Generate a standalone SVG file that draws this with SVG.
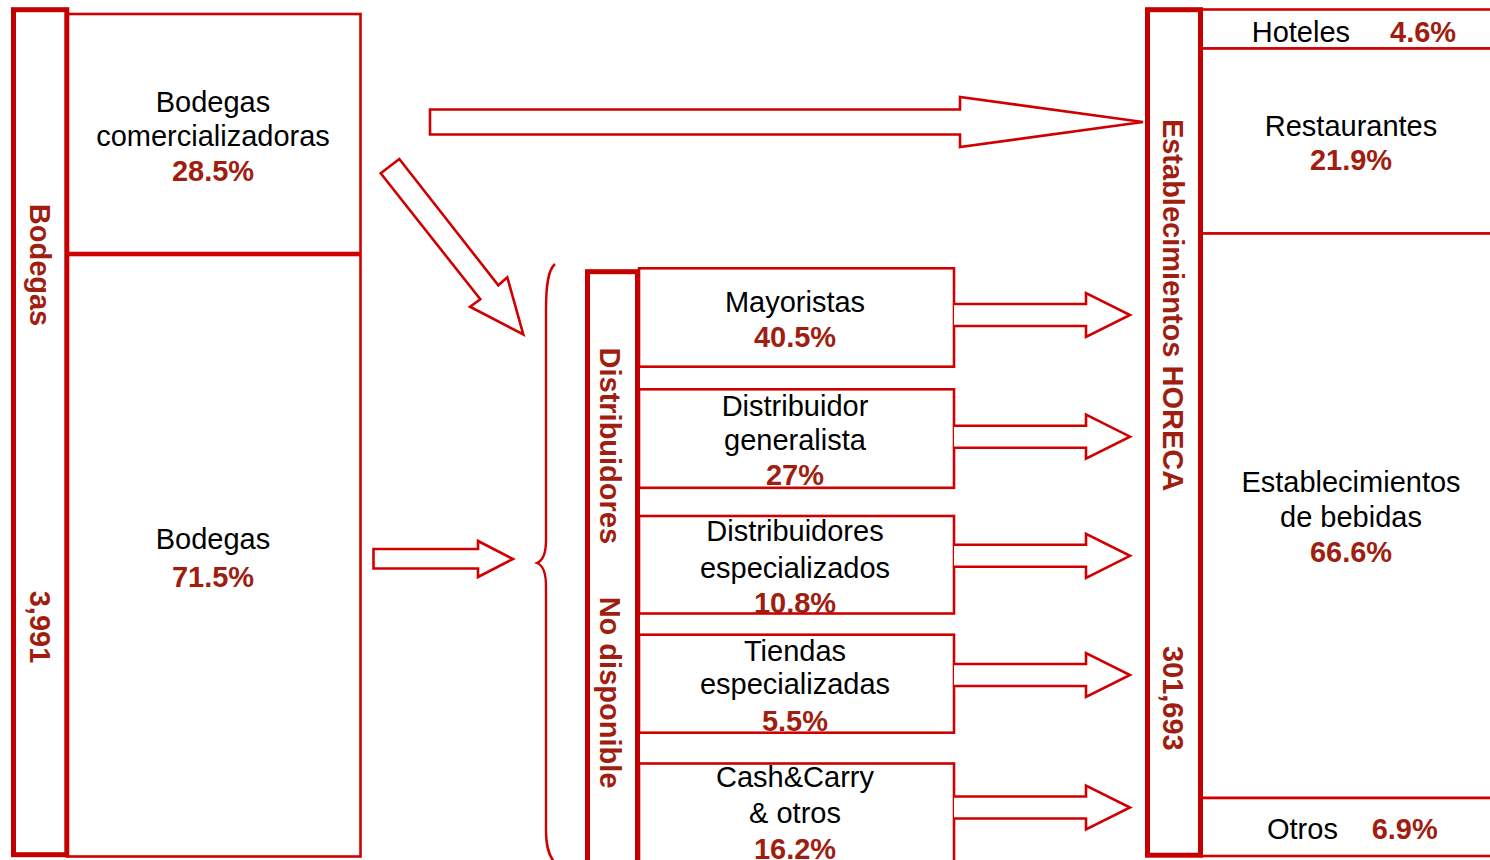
<svg xmlns="http://www.w3.org/2000/svg" xmlns:xlink="http://www.w3.org/1999/xlink" width="1490" height="860" viewBox="0 0 1490 860">
  <style>
    .bar { fill: #ffffff; stroke: #C40000; stroke-width: 5; }
    .box { fill: #ffffff; stroke: #D00000; stroke-width: 2.6; }
    .arrow { fill: #ffffff; stroke: #D00000; stroke-width: 2.6; stroke-linejoin: miter; }
    .brace { fill: none; stroke: #D00000; stroke-width: 2.4; }
    .lbl { font-family: "Liberation Sans", Arial, sans-serif; font-size: 29px; fill: #000000; }
    .pct { font-family: "Liberation Sans", Arial, sans-serif; font-size: 29px; font-weight: bold; fill: #A01E10; }
    .vert { font-family: "Liberation Sans", Arial, sans-serif; font-size: 29px; font-weight: bold; fill: #A01E10; text-anchor: middle; }
    .c { text-anchor: middle; }
  </style>
  <defs>
    <!-- short block arrow, origin at the left end of the shaft centre line -->
    <path id="arrowR" class="arrow" d="M0,-11 H132 V-22 L176,0 L132,22 V11 H0"/>
  </defs>
  <rect width="1490" height="860" fill="#ffffff"/>

  <!-- Left column: wineries -->
  <g id="bodegas-comercializadoras">
    <rect class="box" x="66.8" y="14" width="293.7" height="239"/>
    <text class="lbl c" x="213" y="112">Bodegas</text>
    <text class="lbl c" x="213" y="146">comercializadoras</text>
    <text class="pct c" x="213" y="181">28.5%</text>
  </g>
  <g id="bodegas">
    <rect class="box" x="66.8" y="255" width="293.7" height="601.5"/>
    <text class="lbl c" x="213" y="549">Bodegas</text>
    <text class="pct c" x="213" y="587">71.5%</text>
  </g>
  <g id="bodegas-bar">
    <rect class="bar" x="13.5" y="9.7" width="53.3" height="845"/>
    <text class="vert" transform="translate(29.5,265) rotate(90)">Bodegas</text>
    <text class="vert" transform="translate(29.5,627) rotate(90)">3,991</text>
  </g>

  <!-- Middle column: distributors -->
  <g id="mayoristas">
    <rect class="box" x="639" y="268.3" width="315" height="98.4"/>
    <text class="lbl c" x="795" y="311.7">Mayoristas</text>
    <text class="pct c" x="795" y="346.7">40.5%</text>
  </g>
  <g id="distribuidor-generalista">
    <rect class="box" x="639" y="389.3" width="315" height="98.5"/>
    <text class="lbl c" x="795" y="416">Distribuidor</text>
    <text class="lbl c" x="795" y="450">generalista</text>
    <text class="pct c" x="795" y="485">27%</text>
  </g>
  <g id="distribuidores-especializados">
    <rect class="box" x="639" y="516" width="315" height="97.5"/>
    <text class="lbl c" x="795" y="540.7">Distribuidores</text>
    <text class="lbl c" x="795" y="578.3">especializados</text>
    <text class="pct c" x="795" y="613">10.8%</text>
  </g>
  <g id="tiendas-especializadas">
    <rect class="box" x="639" y="634.7" width="315" height="98"/>
    <text class="lbl c" x="795" y="660.7">Tiendas</text>
    <text class="lbl c" x="795" y="694">especializadas</text>
    <text class="pct c" x="795" y="730.7">5.5%</text>
  </g>
  <g id="cash-carry">
    <rect class="box" x="639" y="763.5" width="315" height="120"/>
    <text class="lbl c" x="795" y="787.3">Cash&amp;Carry</text>
    <text class="lbl c" x="795" y="823.3">&amp; otros</text>
    <text class="pct c" x="795" y="858.5">16.2%</text>
  </g>
  <g id="distribuidores-bar">
    <rect class="bar" x="587.5" y="271.7" width="50" height="620"/>
    <text class="vert" transform="translate(600,445.8) rotate(90)">Distribuidores</text>
    <text class="vert" transform="translate(600,692.5) rotate(90)">No disponible</text>
  </g>
  <path id="distribuidores-brace" class="brace" d="M555,264 C548,270 546,285 546,310 L546,540 C546,555 542,561 537,563 C542,565 546,571 546,586 L546,830 C546,845 548,855 555,863"/>

  <!-- Right column: HORECA channel -->
  <g id="hoteles">
    <rect class="box" x="1200" y="9.5" width="300" height="39"/>
    <text class="lbl" x="1251.7" y="41.7">Hoteles</text>
    <text class="pct" x="1390" y="41.7">4.6%</text>
  </g>
  <g id="restaurantes">
    <rect class="box" x="1200" y="48.5" width="300" height="185"/>
    <text class="lbl c" x="1351" y="136">Restaurantes</text>
    <text class="pct c" x="1351" y="170">21.9%</text>
  </g>
  <g id="establecimientos-bebidas">
    <rect class="box" x="1200" y="233.5" width="300" height="564.5"/>
    <text class="lbl c" x="1351" y="491.7">Establecimientos</text>
    <text class="lbl c" x="1351" y="526.7">de bebidas</text>
    <text class="pct c" x="1351" y="562">66.6%</text>
  </g>
  <g id="otros">
    <rect class="box" x="1200" y="798" width="300" height="58"/>
    <text class="lbl" x="1267" y="839.3">Otros</text>
    <text class="pct" x="1371.7" y="839.3">6.9%</text>
  </g>
  <g id="horeca-bar">
    <rect class="bar" x="1147.5" y="9.7" width="53" height="845.5"/>
    <text class="vert" transform="translate(1163,305) rotate(90)">Establecimientos HORECA</text>
    <text class="vert" transform="translate(1163,698.3) rotate(90)">301,693</text>
  </g>

  <!-- Flow arrows -->
  <g id="connectors">
    <polygon class="arrow" points="430,109.5 960,109.5 960,97 1143,122 960,147 960,134.5 430,134.5"/>
    <polygon class="arrow" points="380.7,173.3 399.3,159 498.3,285.3 507.3,277.3 523.3,334.5 470,306.7 480.3,299.3"/>
    <polygon class="arrow" points="373.5,549 478,549 478,541 513,559 478,577 478,568.5 373.5,568.5"/>
    <use xlink:href="#arrowR" x="954" y="315"/>
    <use xlink:href="#arrowR" x="954" y="436.7"/>
    <use xlink:href="#arrowR" x="954" y="555.8"/>
    <use xlink:href="#arrowR" x="954" y="675"/>
    <use xlink:href="#arrowR" x="954" y="807.5"/>
  </g>
</svg>
